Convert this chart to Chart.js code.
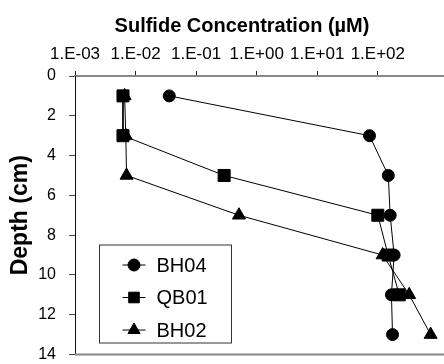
<!DOCTYPE html>
<html>
<head>
<meta charset="utf-8">
<script src="https://cdn.jsdelivr.net/npm/chart.js@4.4.1/dist/chart.umd.min.js"></script>
<style>
  html, body { margin: 0; padding: 0; background: #fff; overflow: hidden; }
  #wrap { width: 484px; height: 364px; }
</style>
</head>
<body>
<div id="wrap"><canvas id="chart" width="484" height="364"></canvas></div>
<script>
// depth (cm) vs sulfide concentration (uM)
const seriesNames = ['BH04', 'QB01', 'BH02'];
const depthBH04 = [1, 3, 5, 7, 9, 11, 13];
const sulfideBH04 = [0.036, 73, 149, 160, 186, 168, 175];
const depthQB01 = [1, 3, 5, 7, 9, 11];
const sulfideQB01 = [0.0062, 0.0062, 0.29, 100, 148, 226];
const depthBH02 = [1, 3, 5, 7, 9, 11, 13];
const sulfideBH02 = [0.0066, 0.0069, 0.0071, 0.51, 120, 330, 745];

const xTickValues = [1e-3, 1e-2, 1e-1, 1, 10, 100];
const xTickLabels = ['1.E-03', '1.E-02', '1.E-01', '1.E+00', '1.E+01', '1.E+02'];

const FONT = '"Liberation Sans", Arial, sans-serif';

const toPoints = (xs, ys) => xs.map((v, i) => ({ x: v, y: ys[i] }));

function makeSeries(label, xs, ys, style, radius) {
    return {
        label: label,
        data: toPoints(xs, ys),
        showLine: true,
        borderColor: '#000',
        borderWidth: 1,
        backgroundColor: '#000',
        pointStyle: style,
        pointRadius: radius,
        pointBackgroundColor: '#000',
        pointBorderColor: '#000',
        pointBorderWidth: 1,
        tension: 0,
        clip: false
    };
}

const markerStyles = ['circle', 'rect', 'triangle'];

// bottom frame line and the boxed legend
const decor = {
    id: 'decor',
    afterDraw(chart) {
        const { ctx, chartArea } = chart;
        ctx.save();

        ctx.strokeStyle = '#888';
        ctx.lineWidth = 2;
        ctx.beginPath();
        ctx.moveTo(chartArea.left, chartArea.bottom);
        ctx.lineTo(chartArea.right, chartArea.bottom);
        ctx.stroke();

        const bx = chartArea.left + 24.5, by = chartArea.bottom - 109.5;
        const bw = 132, bh = 98;
        ctx.fillStyle = '#fff';
        ctx.fillRect(bx, by, bw, bh);
        ctx.strokeStyle = '#333';
        ctx.lineWidth = 1;
        ctx.strokeRect(bx, by, bw, bh);

        const sizes = [6, 7.5, 7];
        ctx.font = '20px ' + FONT;
        ctx.textBaseline = 'middle';
        ctx.textAlign = 'left';
        chart.data.datasets.forEach((ds, i) => {
            const cy = by + 20 + i * 32.5;
            ctx.strokeStyle = '#000';
            ctx.fillStyle = '#000';
            ctx.lineWidth = 1;
            ctx.beginPath();
            ctx.moveTo(bx + 23, cy);
            ctx.lineTo(bx + 46, cy);
            ctx.stroke();
            Chart.helpers.drawPoint(ctx, {
                pointStyle: ds.pointStyle, radius: sizes[i], rotation: 0, borderWidth: 1
            }, bx + 34.5, cy);
            ctx.fillStyle = '#000';
            ctx.fillText(ds.label, bx + 57, cy + 1);
        });
        ctx.restore();
    }
};

new Chart(document.getElementById('chart'), {
    type: 'scatter',
    data: {
        datasets: [
            makeSeries(seriesNames[0], sulfideBH04, depthBH04, markerStyles[0], 6),
            makeSeries(seriesNames[1], sulfideQB01, depthQB01, markerStyles[1], 8.5),
            makeSeries(seriesNames[2], sulfideBH02, depthBH02, markerStyles[2], 7.5)
        ]
    },
    options: {
        responsive: false,
        animation: false,
        layout: { padding: { left: 0, right: 0, top: 0, bottom: 9 } },
        plugins: {
            legend: { display: false },
            tooltip: { enabled: false },
            title: {
                display: true,
                text: 'Sulfide Concentration (µM)',
                color: '#000',
                font: { family: FONT, size: 20, weight: 'bold' },
                padding: { top: 14, bottom: 2 }
            }
        },
        scales: {
            x: {
                type: 'logarithmic',
                position: 'top',
                min: 1e-3,
                max: 3950,
                afterBuildTicks: (scale) => {
                    scale.ticks = xTickValues.map(v => ({ value: v }));
                },
                afterFit: (scale) => {
                    scale.height = 36;
                    scale.paddingLeft = 0;
                    scale.paddingRight = 0;
                },
                ticks: {
                    color: '#000',
                    padding: 6,
                    maxRotation: 0,
                    autoSkip: false,
                    font: { family: FONT, size: 17 },
                    callback: (value, index) => xTickLabels[index]
                },
                grid: { display: true, drawOnChartArea: false, drawTicks: true, tickLength: 5, color: '#222' },
                border: { display: true, color: '#888', width: 2 }
            },
            y: {
                type: 'linear',
                reverse: true,
                min: 0,
                max: 14,
                afterFit: (scale) => {
                    scale.width = 75;
                    scale.paddingTop = 0;
                    scale.paddingBottom = 0;
                },
                ticks: {
                    stepSize: 2,
                    color: '#000',
                    padding: 13,
                    font: { family: FONT, size: 16 }
                },
                grid: { display: true, drawOnChartArea: false, drawTicks: true, tickLength: 6, color: '#444' },
                border: { display: true, color: '#111', width: 1 },
                title: {
                    display: true,
                    text: 'Depth (cm)',
                    color: '#000',
                    font: { family: FONT, size: 23, weight: 'bold' },
                    padding: { top: 7, bottom: 2 }
                }
            }
        }
    },
    plugins: [decor]
});
</script>
</body>
</html>
